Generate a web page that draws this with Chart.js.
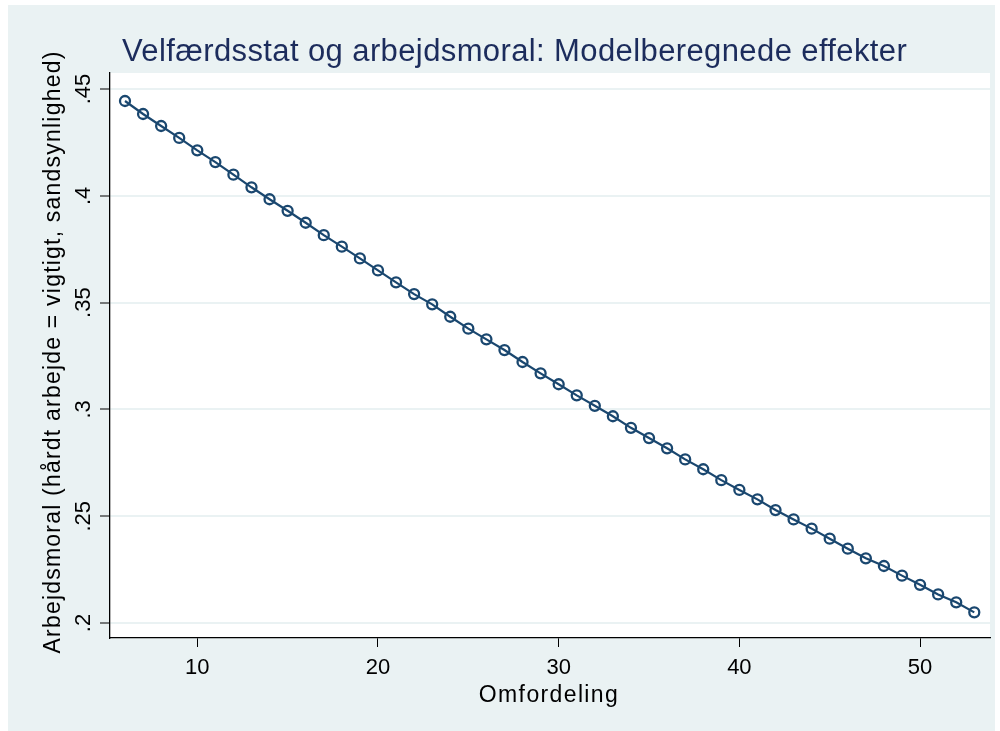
<!DOCTYPE html>
<html>
<head>
<meta charset="utf-8">
<script src="https://cdn.jsdelivr.net/npm/chart.js@4.4.1/dist/chart.umd.min.js"></script>
<style>
  html, body { margin: 0; padding: 0; background: #ffffff; }
  #wrap { width: 1000px; height: 731px; position: relative; }
</style>
</head>
<body>
<div id="wrap"><canvas id="c" width="1000" height="731"></canvas></div>
<script>
const titleText = "Velfærdsstat og arbejdsmoral: Modelberegnede effekter";
const xTitle = "Omfordeling";
const yTitle = "Arbejdsmoral (hårdt arbejde = vigtigt, sandsynlighed)";

const omfordeling = [6,7,8,9,10,11,12,13,14,15,16,17,18,19,20,21,22,23,24,25,26,27,28,29,30,
  31,32,33,34,35,36,37,38,39,40,41,42,43,44,45,46,47,48,49,50,51,52,53];
const arbejdsmoral = [0.4444,0.4383,0.4327,0.4271,0.4213,0.4158,0.4099,0.4040,0.3984,0.3930,
  0.3874,0.3816,0.3762,0.3707,0.3651,0.3595,0.3540,0.3492,0.3434,0.3378,0.3328,0.3278,0.3222,
  0.3169,0.3118,0.3066,0.3017,0.2968,0.2914,0.2866,0.2818,0.2766,0.2720,0.2669,0.2623,0.2579,
  0.2529,0.2485,0.2442,0.2395,0.2348,0.2303,0.2267,0.2222,0.2179,0.2134,0.2097,0.2050];

const xTickValues = [10, 20, 30, 40, 50];
const xTickLabels = ["10", "20", "30", "40", "50"];
const yTickValues = [0.2, 0.25, 0.3, 0.35, 0.4, 0.45];
const yTickLabels = [".2", ".25", ".3", ".35", ".4", ".45"];

const BG = "#EAF2F3";
const NAVY = "#1A476F";
const FONT = "'Liberation Sans', Arial, sans-serif";

function fitText(ctx, text, x, y, target, font) {
  ctx.font = font;
  ctx.letterSpacing = "0px";
  const w = ctx.measureText(text).width;
  const n = Math.max(1, text.length - 1);
  const ls = (target - w) / n;
  ctx.letterSpacing = ls.toFixed(2) + "px";
  ctx.fillText(text, x, y);
  ctx.letterSpacing = "0px";
}

const decor = {
  id: "decor",
  beforeDraw(chart) {
    const ctx = chart.ctx;
    const a = chart.chartArea;
    ctx.save();
    ctx.fillStyle = "#ffffff";
    ctx.fillRect(0, 0, chart.width, chart.height);
    ctx.fillStyle = BG;
    ctx.fillRect(8, 5, 987, 726);
    ctx.fillStyle = "#ffffff";
    ctx.fillRect(a.left, a.top, a.right - a.left, a.bottom - a.top);
    ctx.restore();
  },
  afterDraw(chart) {
    const ctx = chart.ctx;
    const a = chart.chartArea;
    const ys = chart.scales.y;
    const xs = chart.scales.x;
    ctx.save();
    // title
    ctx.fillStyle = "#1C2C5C";
    ctx.textAlign = "left";
    ctx.textBaseline = "alphabetic";
    fitText(ctx, titleText, 122, 61, 785, "31px " + FONT);
    // x tick labels
    ctx.fillStyle = "#000000";
    ctx.textAlign = "center";
    ctx.textBaseline = "middle";
    ctx.font = "22px " + FONT;
    xTickValues.forEach((v, i) => {
      ctx.fillText(xTickLabels[i], xs.getPixelForValue(v), 668);
    });
    // x title
    ctx.textAlign = "center";
    ctx.textBaseline = "alphabetic";
    fitText(ctx, xTitle, (a.left + a.right) / 2 - 1, 702, 139, "23px " + FONT);
    // y tick labels (rotated)
    yTickValues.forEach((v, i) => {
      const py = ys.getPixelForValue(v);
      ctx.save();
      ctx.translate(90, py);
      ctx.rotate(-Math.PI / 2);
      ctx.textAlign = "center";
      ctx.textBaseline = "alphabetic";
      ctx.font = "22px " + FONT;
      ctx.fillText(yTickLabels[i], 0, 0);
      ctx.restore();
    });
    // y title
    ctx.save();
    ctx.translate(60, 352);
    ctx.rotate(-Math.PI / 2);
    ctx.textAlign = "center";
    ctx.textBaseline = "alphabetic";
    fitText(ctx, yTitle, 0, 0, 602, "23px " + FONT);
    ctx.restore();
    ctx.restore();
  }
};

new Chart(document.getElementById("c"), {
  type: "scatter",
  data: {
    datasets: [{
      data: omfordeling.map((x, i) => ({ x: x, y: arbejdsmoral[i] })),
      showLine: true,
      borderColor: NAVY,
      borderWidth: 2.2,
      pointRadius: 5,
      pointHoverRadius: 5,
      pointBorderWidth: 2.3,
      pointBorderColor: NAVY,
      pointBackgroundColor: "rgba(0,0,0,0)",
      tension: 0
    }]
  },
  options: {
    responsive: false,
    animation: false,
    events: [],
    layout: { padding: { top: 73, right: 10, left: 0, bottom: 0 } },
    plugins: { legend: { display: false }, title: { display: false }, tooltip: { enabled: false } },
    scales: {
      x: {
        type: "linear",
        min: 5.17,
        max: 53.87,
        afterFit(s) { s.height = 93; },
        afterBuildTicks(s) { s.ticks = xTickValues.map(v => ({ value: v })); },
        ticks: { display: false },
        grid: { drawOnChartArea: false, drawTicks: true, tickLength: 9, tickColor: "#000000", tickWidth: 1 },
        border: { display: true, color: "#000000", width: 1.3 }
      },
      y: {
        type: "linear",
        min: 0.193,
        max: 0.4575,
        afterFit(s) { s.width = 110; },
        afterBuildTicks(s) { s.ticks = yTickValues.map(v => ({ value: v })); },
        ticks: { display: false },
        grid: { drawOnChartArea: true, color: BG, lineWidth: 2, drawTicks: true, tickLength: 10, tickColor: "#000000", tickWidth: 1 },
        border: { display: true, color: "#000000", width: 1.3 }
      }
    }
  },
  plugins: [decor]
});
</script>
</body>
</html>
